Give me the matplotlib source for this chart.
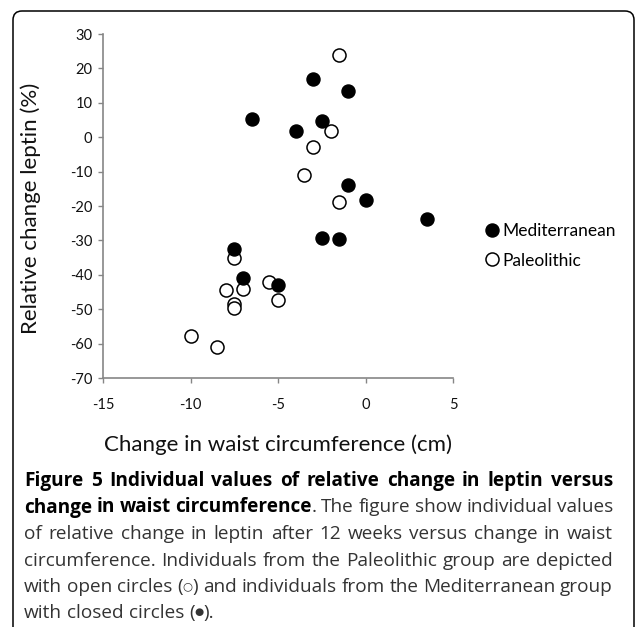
import numpy as np
import matplotlib
matplotlib.use("Agg")
import matplotlib.pyplot as plt
from matplotlib.patches import FancyBboxPatch

plt.rcParams['axes.unicode_minus'] = False

# values
med_x = [-3.0, -1.0, -6.5, -2.5, -4.0, -1.0, 0.0, 3.5, -2.5, -1.5, -7.5, -7.0, -5.0]
med_y = [16.8, 13.5, 5.2, 4.8, 1.7, -13.8, -18.4, -23.7, -29.3, -29.6, -32.4, -41.0, -43.1]
pal_x = [-1.5, -2.0, -3.0, -3.5, -1.5, -7.5, -5.5, -8.0, -7.0, -7.5, -7.5, -5.0, -10.0, -8.5]
pal_y = [23.9, 1.7, -2.8, -11.1, -18.7, -35.1, -42.0, -44.3, -44.1, -48.4, -49.7, -47.4, -57.8, -61.1]
xticks = [-15, -10, -5, 0, 5]
yticks = [-70, -60, -50, -40, -30, -20, -10, 0, 10, 20, 30]

# caption lines: (text, bold, relative size)
caption = [
    [("Figure 5 Individual values of relative change in leptin versus", True, 1)],
    [("change in waist circumference", True, 1), (". The figure show individual values", False, 1)],
    [("of relative change in leptin after 12 weeks versus change in waist", False, 1)],
    [("circumference. Individuals from the Paleolithic group are depicted", False, 1)],
    [("with open circles (", False, 1), ("\u25cb", False, 0.6),
     (") and individuals from the Mediterranean group", False, 1)],
    [("with closed circles (", False, 1), ("\u25cf", False, 0.55), (").", False, 1)],
]

W, H = 637, 627
fig = plt.figure(figsize=(W / 100, H / 100), dpi=100)
ax = fig.add_axes([103 / W, 1 - 378 / H, 350 / W, 344 / H])

ax.plot(pal_x, pal_y, 'o', ms=9.4, mfc='white', mec='black', mew=1.1, label='Paleolithic', zorder=3)
ax.plot(med_x, med_y, 'o', ms=9.4, mfc='black', mec='black', label='Mediterranean', zorder=4)

ax.set_xlim(-15, 5)
ax.set_ylim(-70, 30)
ax.set_xticks(xticks)
ax.set_yticks(yticks)
for s in ['top', 'right']:
    ax.spines[s].set_visible(False)
for s in ['left', 'bottom']:
    ax.spines[s].set_color('#868686')
    ax.spines[s].set_linewidth(1.2)
ax.tick_params(axis='both', direction='out', length=3.6, width=1, color='#868686',
               labelsize=10.5, labelcolor='#111111')
ax.tick_params(axis='x', pad=11)
ax.tick_params(axis='y', pad=4)
for lab in ax.get_xticklabels() + ax.get_yticklabels():
    lab.set_family('Lato')

fig.text(31 / W, 1 - 208 / H, "Relative change leptin (%)", rotation=90, ha='center', va='center',
         family='Lato', fontsize=16, color='#111111')
fig.text(278 / W, 1 - 445 / H, "Change in waist circumference (cm)", ha='center', va='center',
         family='Lato', fontsize=16, color='#111111')

h, l = ax.get_legend_handles_labels()
fig.legend(h[::-1], l[::-1], loc='center left', bbox_to_anchor=(486 / W, 1 - 246 / H),
           frameon=False, handlelength=0.7, handletextpad=0.25,
           labelspacing=0.75, borderpad=0, borderaxespad=0, prop={'family': 'Lato', 'size': 12.5})

# rounded frame, open at the bottom edge
frame = FancyBboxPatch((13 / 100, -0.3), (634 - 13) / 100, (H - 11) / 100 + 0.3,
                       boxstyle='round,pad=0,rounding_size=0.09', transform=fig.dpi_scale_trans,
                       fill=False, ec='black', lw=1.1)
fig.patches.append(frame)

# justified caption
fig.canvas.draw()
rend = fig.canvas.get_renderer()
x0, x1 = 24, 613
cap_font = ['Open Sans', 'DejaVu Sans']
raise_px = {"\u25cb": 3, "\u25cf": 2.5}


def split_words(segs):
    # [word, bold, size factor, glued to previous word]
    words = []
    for text, bold, rel in segs:
        for j, p in enumerate(text.split(' ')):
            if p == '':
                continue
            words.append([p, bold, rel, j == 0 and len(words) > 0])
    return words


def word_widths(words, size):
    arts = [fig.text(0, 0, w, family=cap_font, fontsize=size * r,
                     fontweight='bold' if b else 'normal') for w, b, r, g in words]
    ws = [a.get_window_extent(rend).width for a in arts]
    for a in arts:
        a.remove()
    return ws


# pick the size at which the tightest justified line still has normal spaces
cap_size = 20
for segs in caption[:-1]:
    words = split_words(segs)
    ws = word_widths(words, 12)
    ngaps = sum(1 for w in words[1:] if not w[3])
    nat = sum(ws) + ngaps * 12 * 100 / 72 * 0.24
    cap_size = min(cap_size, 12 * (x1 - x0) / nat)

baselines = [486, 512.5, 539, 565.5, 592, 618]
for i, segs in enumerate(caption):
    words = split_words(segs)
    arts = []
    for w, bold, rel, glue in words:
        yb = baselines[i] - raise_px.get(w, 0)
        t = fig.text(0, 1 - yb / H, w, family=cap_font, fontsize=cap_size * rel,
                     fontweight='bold' if bold else 'normal',
                     color='black' if bold else '#333333', va='baseline', ha='left')
        arts.append(t)
    widths = [a.get_window_extent(rend).width for a in arts]
    ngaps = sum(1 for w in words[1:] if not w[3])
    last = i == len(caption) - 1
    gap = cap_size * 100 / 72 * 0.26 if last else (x1 - x0 - sum(widths)) / max(ngaps, 1)
    x = x0
    for k, a in enumerate(arts):
        if k > 0 and not words[k][3]:
            x += gap
        a.set_x(x / W)
        x += widths[k]

fig.savefig("out.png", dpi=100)
